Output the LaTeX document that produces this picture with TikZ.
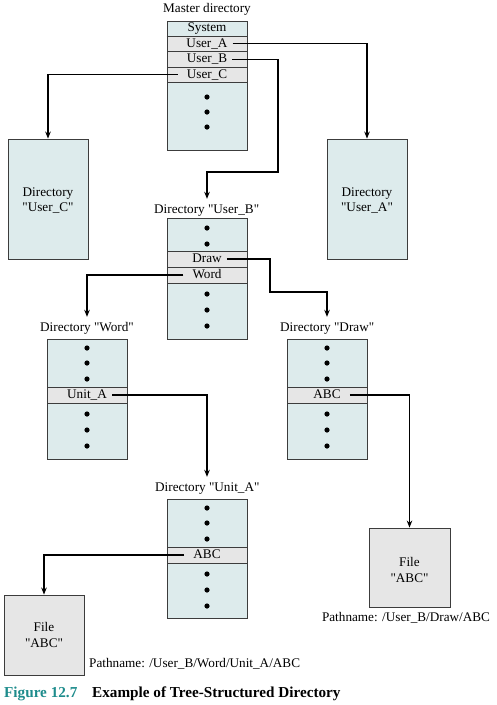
\documentclass[tikz,border=0pt]{standalone}
\usepackage{fontspec}
\setmainfont{Liberation Serif}
\usetikzlibrary{arrows.meta}

\definecolor{dirfill}{HTML}{DDEBEC}
\definecolor{rowfill}{HTML}{E6E6E6}
\definecolor{filefill}{HTML}{E6E6E6}
\definecolor{edgegray}{HTML}{3C3C3C}
\definecolor{captionteal}{HTML}{1E8C8C}

% straight double quote
\newcommand{\sq}{\textquotedbl}

\tikzset{
  dirbox/.style={draw=edgegray, fill=dirfill, line width=0.9pt,
    minimum width=80pt, inner sep=0pt},
  rowbox/.style={draw=edgegray, fill=rowfill, line width=0.9pt,
    minimum width=80pt, minimum height=16pt, inner sep=0pt},
  filebox/.style={draw=edgegray, fill=filefill, line width=0.9pt,
    minimum width=80pt, minimum height=80pt, inner sep=0pt, align=center},
  entry/.style={inner xsep=5pt, inner ysep=0pt, text height=9pt, text depth=2.5pt},
  dirlabel/.style={inner xsep=0pt, inner ysep=5pt, text height=9pt, text depth=3pt},
  link/.style={draw=black, line width=1.1pt,
    -{Stealth[length=7pt,width=5.5pt]}},
}

\begin{document}
\begin{tikzpicture}[x=1pt, y=-1pt, font=\fontsize{13.2}{15.5}\selectfont]
\useasboundingbox (0,0) rectangle (497,705);

% ---------- Master directory ----------
\node[dirlabel] (lblMaster) at (207,9) {Master directory};
\node[dirbox, minimum height=129pt] (master) at (207,85.5) {};
\draw[edgegray, line width=0.9pt] (master.west |- 0,36) -- (master.east |- 0,36);
\node[entry] (sys) at (207,28.5) {System};
\node[rowbox, minimum height=15.5pt] (rowA) at (207,43.75) {};
\node[entry] (ua) at (rowA) {User\_A};
\node[rowbox, minimum height=15.5pt] (rowB) at (207,59.25) {};
\node[entry] (ub) at (rowB) {User\_B};
\node[rowbox, minimum height=15.5pt] (rowC) at (207,74.75) {};
\node[entry, inner xsep=9pt] (uc) at (rowC) {User\_C};
\foreach \y in {97,112,127} \fill (207,\y) circle[radius=2.6pt];

% ---------- Directories User_C and User_A ----------
\node[dirbox, minimum height=120pt] (dirC) at (48,199) {};
\node[align=center, inner sep=0pt] (txtC) at (48,200.5) {Directory\\\sq User\_C\sq};
\node[dirbox, minimum height=120pt] (dirA) at (367,199) {};
\node[align=center, inner sep=0pt] (txtA) at (367,200.5) {Directory\\\sq User\_A\sq};

% ---------- Directory User_B ----------
\node[dirlabel, anchor=west] (lblB) at (154,210) {Directory \sq User\_B\sq};
\node[dirbox, minimum height=121pt] (boxB) at (207,278.5) {};
\node[rowbox] (rowDraw) at (207,259) {};
\node[entry] (dr) at (rowDraw) {Draw};
\node[rowbox] (rowWord) at (207,275) {};
\node[entry, inner xsep=9pt] (wd) at (rowWord) {Word};
\foreach \y in {228,244,294,310,326} \fill (207,\y) circle[radius=2.6pt];

% ---------- Directory Word ----------
\node[dirlabel, anchor=west] (lblWord) at (40,328) {Directory \sq Word\sq};
\node[dirbox, minimum height=120pt] (boxWord) at (87,399) {};
\node[rowbox] (rowUnit) at (87,395) {};
\node[entry] (un) at (rowUnit) {Unit\_A};
\foreach \y in {348,363,379,414,430,446} \fill (87,\y) circle[radius=2.6pt];

% ---------- Directory Draw ----------
\node[dirlabel, anchor=west] (lblDraw) at (280,328) {Directory \sq Draw\sq};
\node[dirbox, minimum height=120pt] (boxDraw) at (327,399) {};
\node[rowbox] (rowAbcD) at (327,395) {};
\node[entry, inner xsep=9pt] (abcD) at (rowAbcD) {ABC};
\foreach \y in {348,363,379,414,430,446} \fill (327,\y) circle[radius=2.6pt];

% ---------- Directory Unit_A ----------
\node[dirlabel, anchor=west] (lblU) at (155,488) {Directory \sq Unit\_A\sq};
\node[dirbox, minimum height=119pt] (boxU) at (207,558.5) {};
\node[rowbox] (rowAbcU) at (207,555) {};
\node[entry, inner xsep=9pt] (abcU) at (rowAbcU) {ABC};
\foreach \y in {508,523,539,574,590,606} \fill (207,\y) circle[radius=2.6pt];

% ---------- Files ----------
\node[filebox] (fileL) at (44,635) {};
\node[align=center, inner sep=0pt] (txtFL) at (44,635) {File\\\sq ABC\sq};
\node[filebox, minimum width=81pt, minimum height=79pt] (fileR) at (409.5,567.5) {};
\node[align=center, inner sep=0pt] (txtFR) at (409.5,570) {File\\\sq ABC\sq};
\node[anchor=west, inner sep=0pt] (pathL) at (89,664) {Pathname: /User\_B/Word/Unit\_A/ABC};
\node[inner sep=0pt] (pathR) at (406,618) {Pathname: /User\_B/Draw/ABC};

% ---------- Links ----------
\draw[link] (ua.east) -| (dirA.north);
\draw[link] (uc.west) -| (dirC.north);
\draw[link] (ub.east) -| (278,172) -| (boxB.north |- lblB.north);
\draw[link] (dr.east) -| (270,292) -| (boxDraw.north |- lblDraw.north);
\draw[link] (wd.west) -| (boxWord.north |- lblWord.north);
\draw[link] (un.east) -| (boxU.north |- lblU.north);
\draw[link] (abcD.east) -| (fileR.north);
\draw[link] (abcU.west) -| (fileL.north);

% ---------- Caption ----------
\node[anchor=west, inner sep=0pt, font=\fontsize{15.2}{17}\selectfont\bfseries,
  text=captionteal] (figno) at (4,694) {Figure 12.7};
\node[anchor=west, inner sep=0pt, font=\fontsize{15.2}{17}\selectfont\bfseries]
  (figtitle) at (92,694) {Example of Tree-Structured Directory};
\end{tikzpicture}
\end{document}
